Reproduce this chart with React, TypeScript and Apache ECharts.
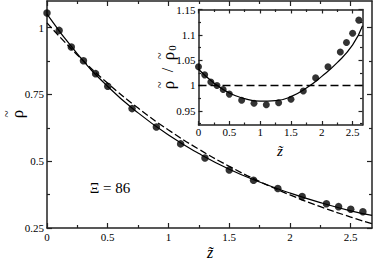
import React, { useEffect, useRef } from "react";
import * as echarts from "echarts";

// ---- data ----
const zPoints = [0, 0.1, 0.2, 0.3, 0.4, 0.5, 0.7, 0.9, 1.1, 1.3, 1.5, 1.7, 1.9, 2.1, 2.3, 2.4, 2.5, 2.6];
const rhoPoints = [1.055, 0.99, 0.928, 0.876, 0.828, 0.781, 0.697, 0.628, 0.565, 0.512, 0.467, 0.429, 0.398, 0.368, 0.341, 0.33, 0.32, 0.311];
const ratioPoints = [1.037, 1.021, 1.007, 1.0, 0.992, 0.983, 0.971, 0.965, 0.962, 0.966, 0.973, 0.989, 1.015, 1.037, 1.066, 1.085, 1.103, 1.129];

const zCurve = [0, 0.25, 0.5, 0.75, 1, 1.25, 1.5, 1.75, 2, 2.25, 2.5, 2.675];
const rhoFit = [1.051, 0.902, 0.78, 0.681, 0.598, 0.529, 0.47, 0.422, 0.381, 0.345, 0.314, 0.297];
const rhoRef = [1.018, 0.898, 0.792, 0.699, 0.617, 0.545, 0.481, 0.424, 0.374, 0.33, 0.291, 0.266];

const zInsetCurve = [0, 0.25, 0.5, 0.75, 1, 1.25, 1.5, 1.75, 2, 2.25, 2.5, 2.66];
const ratioFit = [1.032, 1.005, 0.985, 0.974, 0.969, 0.97, 0.978, 0.995, 1.018, 1.045, 1.08, 1.118];
const zInsetRef = [0, 2.66];
const ratioRef = [1, 1];

const mainXTicks = [0, 0.5, 1, 1.5, 2, 2.5];
const mainXMinor = [0.25, 0.75, 1.25, 1.75, 2.25];
const mainYTicks = [0.25, 0.5, 0.75, 1];
const mainYMinor = [0.375, 0.625, 0.875];
const insetXTicks = [0, 0.5, 1, 1.5, 2, 2.5];
const insetXMinor = [0.25, 0.75, 1.25, 1.75, 2.25];
const insetYTicks = [0.95, 1, 1.05, 1.1, 1.15];
const insetYMinor = [0.925, 0.975, 1.025, 1.075, 1.125];

const mainX = [0, 2.675];
const mainY = [0.25, 1.1];
const insetX = [0, 2.66];
const insetY = [0.922, 1.15];

// ---- styling ----
const AX = "#222";
const FONT = "Liberation Serif";
const fmt = (v: number) => String(Math.round(v * 1000) / 1000);

function axis(
  gridIndex: number,
  position: string,
  range: number[],
  ticks: number[],
  tickLen: number,
  showLine: boolean,
  showLabels: boolean,
  fontSize: number,
  margin: number
) {
  return {
    type: "value",
    gridIndex,
    position,
    min: range[0],
    max: range[1],
    axisLine: { show: showLine, onZero: false, lineStyle: { color: AX, width: 1.5 } },
    axisTick: {
      show: true,
      inside: true,
      length: tickLen,
      customValues: ticks,
      lineStyle: { color: AX, width: 1.2 },
    },
    axisLabel: {
      show: showLabels,
      customValues: ticks,
      formatter: fmt,
      fontFamily: FONT,
      fontSize,
      color: "#000",
      margin,
    },
    splitLine: { show: false },
    minorTick: { show: false },
  };
}

const xAxes = [
  axis(0, "bottom", mainX, mainXTicks, 5, true, true, 11, 3),
  axis(0, "bottom", mainX, mainXMinor, 3, false, false, 11, 3),
  axis(0, "top", mainX, mainXTicks, 5, true, false, 11, 3),
  axis(0, "top", mainX, mainXMinor, 3, false, false, 11, 3),
  axis(1, "bottom", insetX, insetXTicks, 4, true, true, 11, 1),
  axis(1, "bottom", insetX, insetXMinor, 2.5, false, false, 11, 1),
  axis(1, "top", insetX, insetXTicks, 4, true, false, 11, 1),
  axis(1, "top", insetX, insetXMinor, 2.5, false, false, 11, 1),
];
const yAxes = [
  axis(0, "left", mainY, mainYTicks, 5, true, true, 11, 3),
  axis(0, "left", mainY, mainYMinor, 3, false, false, 11, 3),
  axis(0, "right", mainY, mainYTicks, 5, true, false, 11, 3),
  axis(0, "right", mainY, mainYMinor, 3, false, false, 11, 3),
  axis(1, "left", insetY, insetYTicks, 4, true, true, 11, 3),
  axis(1, "left", insetY, insetYMinor, 2.5, false, false, 11, 3),
  axis(1, "right", insetY, insetYTicks, 4, true, false, 11, 3),
  axis(1, "right", insetY, insetYMinor, 2.5, false, false, 11, 3),
];

const pair = (xs: number[], ys: number[]) => xs.map((x, i) => [x, ys[i]]);

const txt = (text: string, x: number, y: number, size: number, italic = false) => ({
  type: "text",
  x,
  y,
  style: {
    text,
    font: `${italic ? "italic " : ""}${size}px "${FONT}"`,
    fill: "#000",
    align: "center",
    verticalAlign: "middle",
  },
});

// a letter with a tilde stacked above it, as one text
const tilded = (letter: string, x: number, y: number, size: number, italic: boolean, rotation = 0) => ({
  type: "text",
  x,
  y,
  rotation,
  style: {
    text: `{t|~}\n{l|${letter}}`,
    fill: "#000",
    align: "center",
    verticalAlign: "middle",
    rich: {
      t: { fontFamily: FONT, fontSize: 13, lineHeight: 8, align: "center", fill: "#000" },
      l: {
        fontFamily: FONT,
        fontSize: size,
        fontStyle: italic ? "italic" : "normal",
        lineHeight: 14,
        align: "center",
        fill: "#000",
      },
    },
  },
});

const option: any = {
  animation: false,
  backgroundColor: "#fff",
  grid: [
    { left: 47, top: 1, right: 2, bottom: 34, containLabel: false },
    {
      left: 198.5,
      top: 9.5,
      right: 11.5,
      bottom: 137,
      containLabel: false,
      show: true,
      backgroundColor: "#fff",
      borderWidth: 0,
    },
  ],
  xAxis: xAxes,
  yAxis: yAxes,
  series: [
    {
      type: "line",
      xAxisIndex: 0,
      yAxisIndex: 0,
      data: pair(zCurve, rhoRef),
      smooth: true,
      showSymbol: false,
      lineStyle: { color: "#000", width: 1.3, type: [7, 3] },
    },
    {
      type: "line",
      xAxisIndex: 0,
      yAxisIndex: 0,
      data: pair(zCurve, rhoFit),
      smooth: true,
      showSymbol: false,
      lineStyle: { color: "#000", width: 1.2 },
    },
    {
      type: "scatter",
      xAxisIndex: 0,
      yAxisIndex: 0,
      data: pair(zPoints, rhoPoints),
      symbolSize: 7.5,
      itemStyle: { color: "#000" },
    },
    {
      type: "line",
      xAxisIndex: 4,
      yAxisIndex: 4,
      data: pair(zInsetRef, ratioRef),
      showSymbol: false,
      lineStyle: { color: "#000", width: 1.5, type: [8, 4] },
    },
    {
      type: "line",
      xAxisIndex: 4,
      yAxisIndex: 4,
      data: pair(zInsetCurve, ratioFit),
      smooth: true,
      showSymbol: false,
      lineStyle: { color: "#000", width: 1.2 },
    },
    {
      type: "scatter",
      xAxisIndex: 4,
      yAxisIndex: 4,
      data: pair(zPoints, ratioPoints),
      symbolSize: 7,
      itemStyle: { color: "#000" },
    },
  ],
  graphic: [
    // main y title
    tilded("ρ", 13, 114, 17, false, Math.PI / 2),
    // main x title
    txt("z̃", 210, 252, 16, true),
    // inset x title
    txt("z̃", 280, 151, 15, true),
    // inset y title: rho / rho_0 with tildes
    {
      type: "group",
      x: 167,
      y: 70,
      rotation: Math.PI / 2,
      children: [
        txt("ρ", -15, 1, 17),
        txt("~", -15, -8, 13),
        txt("/", 0, 0, 16),
        txt("ρ", 14, 1, 17),
        txt("~", 14, -8, 13),
        txt("0", 22, 5, 11),
      ],
    },
    txt("Ξ = 86", 110, 188, 15),
  ],
};

export default function App() {
  const ref = useRef<HTMLDivElement>(null);
  useEffect(() => {
    const chart = echarts.init(ref.current!, null, { renderer: "svg" });
    chart.setOption(option);
    return () => chart.dispose();
  }, []);
  return (
    <div
      ref={ref}
      style={{ position: "fixed", left: 0, top: 0, width: 374, height: 262, background: "#fff" }}
    />
  );
}
